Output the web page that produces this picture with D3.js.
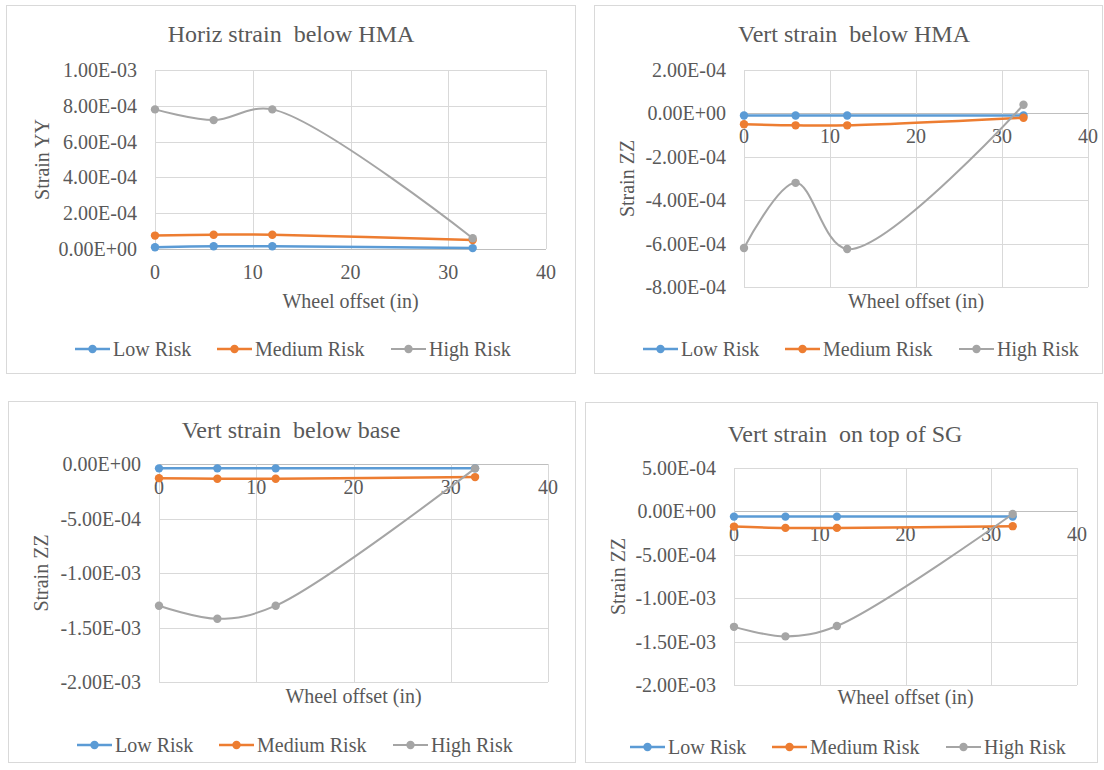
<!DOCTYPE html>
<html><head><meta charset="utf-8"><script src="https://cdn.jsdelivr.net/npm/d3@7"></script></head>
<body style="margin:0">
<svg id="c" width="1104" height="770"></svg>
<script>
// ---------- data ----------
const xOffsets = [0, 6, 12, 32.5];
const seriesNames = ["Low Risk", "Medium Risk", "High Risk"];
const xTicks = [0, 10, 20, 30, 40];
const xTickLabels = ["0", "10", "20", "30", "40"];
const chartTitles = ["Horiz strain  below HMA", "Vert strain  below HMA", "Vert strain  below base", "Vert strain  on top of SG"];
const yAxisTitles = ["Strain YY", "Strain ZZ", "Strain ZZ", "Strain ZZ"];
const xAxisTitle = "Wheel offset (in)";

// Panel 1: Horiz strain below HMA
const horizHmaLow = [1.0e-5, 1.5e-5, 1.5e-5, 5e-6];
const horizHmaMedium = [7.5e-5, 8.0e-5, 8.0e-5, 5.0e-5];
const horizHmaHigh = [7.8e-4, 7.2e-4, 7.8e-4, 6.0e-5];
const horizHmaTicks = [0, 2e-4, 4e-4, 6e-4, 8e-4, 1e-3];
const horizHmaTickLabels = ["0.00E+00", "2.00E-04", "4.00E-04", "6.00E-04", "8.00E-04", "1.00E-03"];

// Panel 2: Vert strain below HMA
const vertHmaLow = [-1.0e-5, -1.0e-5, -1.0e-5, -1.0e-5];
const vertHmaMedium = [-5.0e-5, -5.5e-5, -5.5e-5, -2.0e-5];
const vertHmaHigh = [-6.2e-4, -3.2e-4, -6.25e-4, 4.0e-5];
const vertHmaTicks = [-8e-4, -6e-4, -4e-4, -2e-4, 0, 2e-4];
const vertHmaTickLabels = ["-8.00E-04", "-6.00E-04", "-4.00E-04", "-2.00E-04", "0.00E+00", "2.00E-04"];

// Panel 3: Vert strain below base
const vertBaseLow = [-4.0e-5, -4.0e-5, -4.0e-5, -4.0e-5];
const vertBaseMedium = [-1.3e-4, -1.35e-4, -1.35e-4, -1.2e-4];
const vertBaseHigh = [-1.3e-3, -1.42e-3, -1.3e-3, -4.0e-5];
const vertBaseTicks = [-2e-3, -1.5e-3, -1e-3, -5e-4, 0];
const vertBaseTickLabels = ["-2.00E-03", "-1.50E-03", "-1.00E-03", "-5.00E-04", "0.00E+00"];

// Panel 4: Vert strain on top of SG
const vertSgLow = [-6.0e-5, -6.0e-5, -6.0e-5, -6.0e-5];
const vertSgMedium = [-1.75e-4, -1.9e-4, -1.9e-4, -1.7e-4];
const vertSgHigh = [-1.33e-3, -1.44e-3, -1.32e-3, -3.0e-5];
const vertSgTicks = [-2e-3, -1.5e-3, -1e-3, -5e-4, 0, 5e-4];
const vertSgTickLabels = ["-2.00E-03", "-1.50E-03", "-1.00E-03", "-5.00E-04", "0.00E+00", "5.00E-04"];

// ---------- layout / style ----------
const FONT = "'Liberation Serif'";
const colors = ["#5b9bd5", "#ed7d31", "#a5a5a5"];
const legendItemOffsets = [0, 142, 316];
const panels = [
  {box:[6,5,569,368], plot:{l:155,r:546,t:70,b:249}, titleX:291, titleY:34, yTitleX:42, axTitleY:301, legStart:75, legY:349,
   series:[horizHmaLow, horizHmaMedium, horizHmaHigh], ticks:horizHmaTicks, tickLabels:horizHmaTickLabels},
  {box:[594,5,508,368], plot:{l:744,r:1088,t:70,b:287}, titleX:854, titleY:34, yTitleX:627, axTitleY:301, legStart:643, legY:349,
   series:[vertHmaLow, vertHmaMedium, vertHmaHigh], ticks:vertHmaTicks, tickLabels:vertHmaTickLabels},
  {box:[8,401,567,361], plot:{l:159,r:548,t:464,b:682}, titleX:291, titleY:430, yTitleX:41, axTitleY:696, legStart:77, legY:745,
   series:[vertBaseLow, vertBaseMedium, vertBaseHigh], ticks:vertBaseTicks, tickLabels:vertBaseTickLabels},
  {box:[585,402,512,360], plot:{l:734,r:1077,t:468,b:685}, titleX:845, titleY:434, yTitleX:618, axTitleY:697, legStart:630, legY:747,
   series:[vertSgLow, vertSgMedium, vertSgHigh], ticks:vertSgTicks, tickLabels:vertSgTickLabels}
];

const svg = d3.select("#c");
svg.append("rect").attr("width",1104).attr("height",770).attr("fill","#fff");

function txt(sel, size){ return sel.style("font-family",FONT).style("font-size",size+"px").attr("fill","#595959").attr("dy","0.35em"); }

panels.forEach((p, pi) => {
  const g = svg.append("g");
  g.append("rect").attr("x",p.box[0]+0.5).attr("y",p.box[1]+0.5).attr("width",p.box[2]).attr("height",p.box[3])
    .attr("fill","#fff").attr("stroke","#d9d9d9").attr("stroke-width",1);

  const x = d3.scaleLinear().domain([0,40]).range([p.plot.l, p.plot.r]);
  const y = d3.scaleLinear().domain(d3.extent(p.ticks)).range([p.plot.b, p.plot.t]);

  g.append("g").selectAll("line").data(p.ticks).join("line")
    .attr("x1",p.plot.l).attr("x2",p.plot.r).attr("y1",d=>Math.round(y(d))+0.5).attr("y2",d=>Math.round(y(d))+0.5)
    .attr("stroke",d=>d===0?"#bfbfbf":"#d9d9d9").attr("stroke-width",1);
  g.append("g").selectAll("line").data(xTicks).join("line")
    .attr("y1",p.plot.t).attr("y2",p.plot.b).attr("x1",d=>Math.round(x(d))+0.5).attr("x2",d=>Math.round(x(d))+0.5)
    .attr("stroke","#d9d9d9").attr("stroke-width",1);

  txt(g.append("g").selectAll("text").data(p.ticks).join("text")
    .attr("x",p.plot.l-18).attr("y",d=>y(d)).attr("text-anchor","end"), 20)
    .text((d,i)=>p.tickLabels[i]);
  const y0 = y(0);
  txt(g.append("g").selectAll("text").data(xTicks).join("text")
    .attr("x",d=>x(d)).attr("y",y0+23).attr("text-anchor","middle"), 20)
    .text((d,i)=>xTickLabels[i]);

  txt(g.append("text").attr("x",p.titleX).attr("y",p.titleY).attr("text-anchor","middle"), 24)
    .style("white-space","pre").text(chartTitles[pi]);
  txt(g.append("text").attr("x",(p.plot.l+p.plot.r)/2).attr("y",p.axTitleY).attr("text-anchor","middle"), 20)
    .text(xAxisTitle);
  txt(g.append("text").attr("transform",`translate(${p.yTitleX},${(p.plot.t+p.plot.b)/2}) rotate(-90)`)
    .attr("text-anchor","middle"), 20).text(yAxisTitles[pi]);

  const line = d3.line().x((d,i)=>x(xOffsets[i])).y(d=>y(d)).curve(d3.curveCatmullRom.alpha(0.5));
  p.series.forEach((s, si) => {
    const sg = g.append("g");
    sg.append("path").attr("d", line(s)).attr("fill","none").attr("stroke",colors[si])
      .attr("stroke-width", si===2?2:2.5).attr("stroke-linejoin","round");
    sg.selectAll("circle").data(s).join("circle")
      .attr("cx",(d,i)=>x(xOffsets[i])).attr("cy",d=>y(d)).attr("r",4.2).attr("fill",colors[si]);
  });

  const leg = g.append("g");
  const lineLen = 35, gapText = 3;
  seriesNames.forEach((n, si) => {
    const cx = p.legStart + legendItemOffsets[si];
    leg.append("line").attr("x1",cx).attr("x2",cx+lineLen).attr("y1",p.legY).attr("y2",p.legY)
      .attr("stroke",colors[si]).attr("stroke-width",si===2?2:2.5);
    leg.append("circle").attr("cx",cx+lineLen/2).attr("cy",p.legY).attr("r",4.2).attr("fill",colors[si]);
    txt(leg.append("text").attr("x",cx+lineLen+gapText).attr("y",p.legY), 20).text(n);
  });
});
</script>
</body></html>
